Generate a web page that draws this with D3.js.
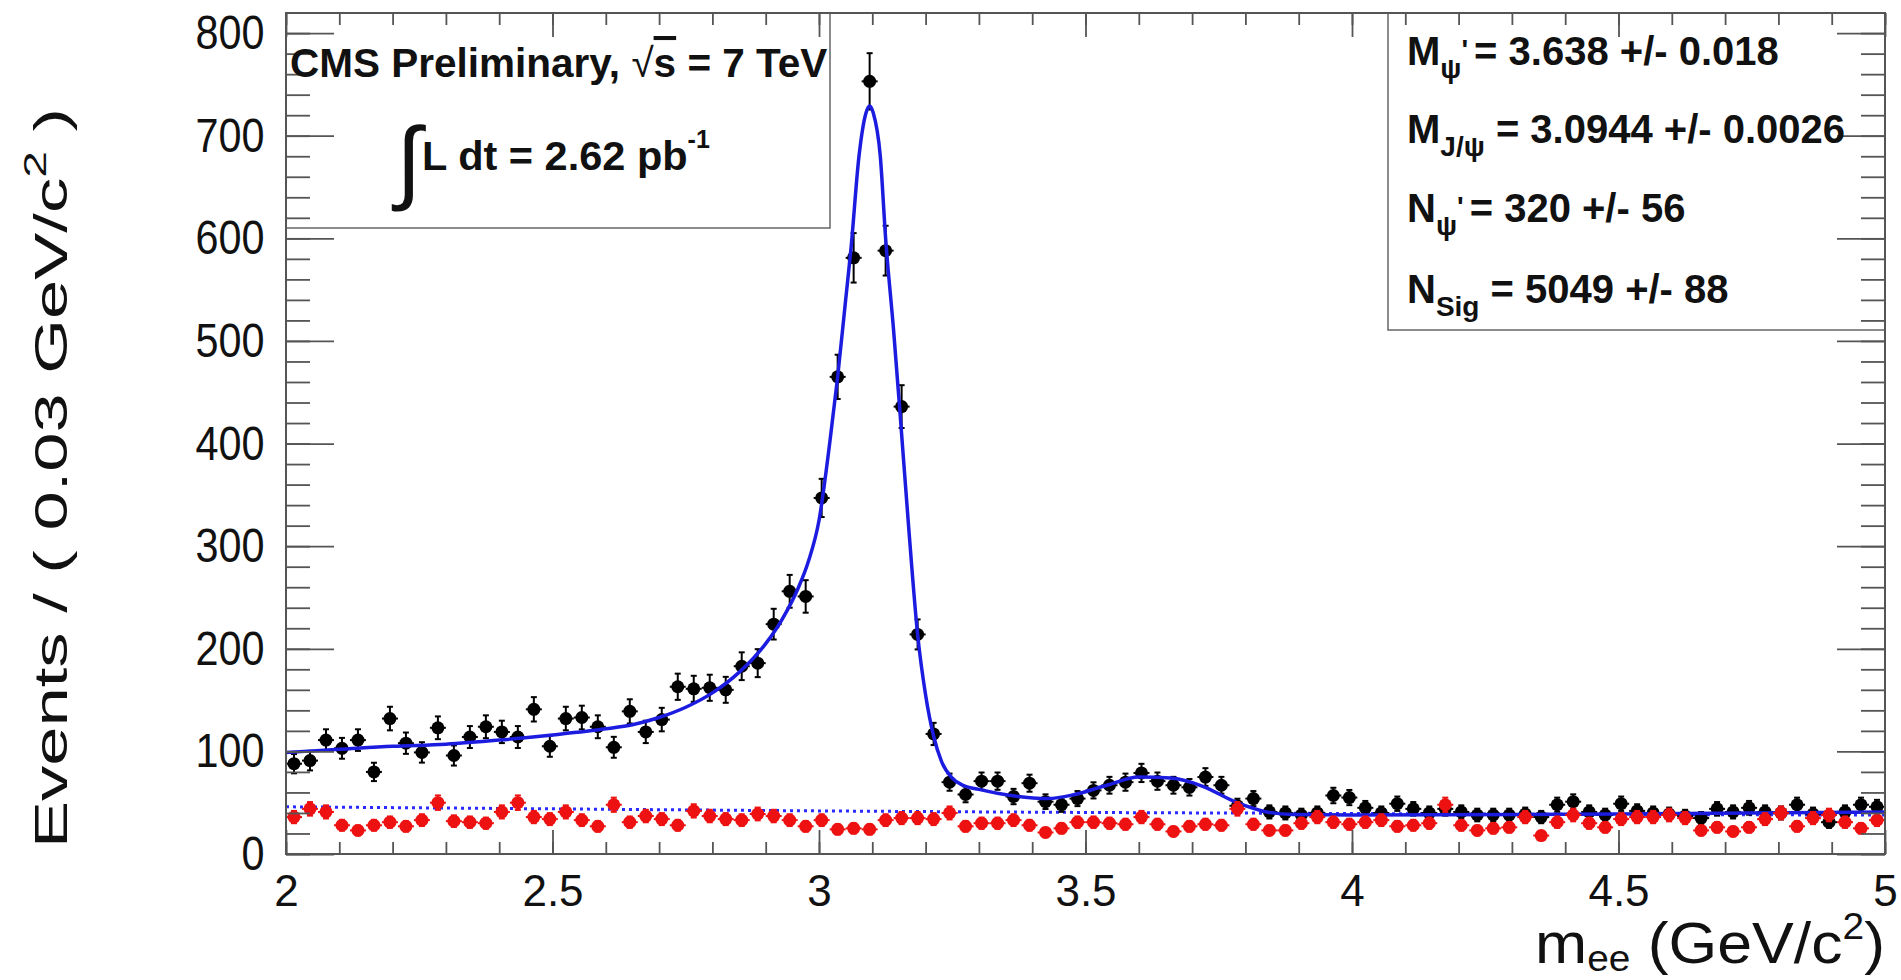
<!DOCTYPE html>
<html>
<head>
<meta charset="utf-8">
<script src="https://cdn.jsdelivr.net/npm/d3@7"></script>
<style>
  body { margin: 0; background: #fff; }
  svg text { font-family: "Liberation Sans", Arial, Helvetica, sans-serif; fill: #111; }
</style>
</head>
<body>
<div id="container"></div>
<script>
// bin centres of the m_ee histogram (0.03 GeV/c^2 bins from 2 to 5)
const binCenters = [
  2.015, 2.045, 2.075, 2.105, 2.135, 2.165, 2.195, 2.225, 2.255, 2.285,
  2.315, 2.345, 2.375, 2.405, 2.435, 2.465, 2.495, 2.525, 2.555, 2.585,
  2.615, 2.645, 2.675, 2.705, 2.735, 2.765, 2.795, 2.825, 2.855, 2.885,
  2.915, 2.945, 2.975, 3.005, 3.035, 3.065, 3.095, 3.125, 3.155, 3.185,
  3.215, 3.245, 3.275, 3.305, 3.335, 3.365, 3.395, 3.425, 3.455, 3.485,
  3.515, 3.545, 3.575, 3.605, 3.635, 3.665, 3.695, 3.725, 3.755, 3.785,
  3.815, 3.845, 3.875, 3.905, 3.935, 3.965, 3.995, 4.025, 4.055, 4.085,
  4.115, 4.145, 4.175, 4.205, 4.235, 4.265, 4.295, 4.325, 4.355, 4.385,
  4.415, 4.445, 4.475, 4.505, 4.535, 4.565, 4.595, 4.625, 4.655, 4.685,
  4.715, 4.745, 4.775, 4.805, 4.835, 4.865, 4.895, 4.925, 4.955, 4.985
];

// black points: opposite-sign ee events
const osCounts = [
  88, 91, 111, 103, 111, 80, 132, 108, 99, 123,
  96, 114, 124, 119, 114, 141, 105, 132, 133, 124,
  104, 139, 119, 131, 163, 161, 162, 160, 183, 186,
  224, 256, 251, 347, 465, 581, 753, 588, 436, 214,
  117, 70, 58, 71, 71, 56, 69, 51, 48, 54,
  62, 67, 70, 79, 71, 67, 65, 75, 67, 47,
  54, 41, 40, 38, 40, 57, 55, 45, 40, 49,
  44, 40, 44, 41, 38, 38, 38, 39, 36, 48,
  51, 41, 38, 49, 42, 40, 39, 37, 35, 44,
  41, 45, 41, 40, 48, 39, 31, 41, 48, 46
];

// red points: same-sign ee events
const ssCounts = [
  36, 44, 41, 28, 23, 28, 31, 27, 33, 50,
  32, 31, 30, 41, 50, 36, 34, 41, 33, 27,
  48, 31, 37, 34, 28, 42, 37, 34, 33, 39,
  37, 33, 27, 33, 24, 25, 24, 33, 35, 35,
  34, 40, 27, 30, 30, 33, 28, 21, 25, 31,
  31, 30, 29, 36, 29, 22, 27, 29, 28, 44,
  29, 23, 23, 30, 36, 31, 29, 31, 33, 27,
  28, 30, 48, 28, 23, 25, 26, 36, 18, 31,
  38, 30, 26, 34, 36, 36, 38, 35, 23, 26,
  22, 26, 34, 40, 27, 35, 38, 31, 25, 33
];

// total fit curve
const fitMass = [2.00, 2.10, 2.20, 2.30, 2.40, 2.50, 2.60, 2.65, 2.70, 2.75,
  2.80, 2.85, 2.90, 2.93, 2.96, 2.98, 3.00, 3.02, 3.035, 3.05,
  3.06, 3.075, 3.088, 3.095, 3.102, 3.115, 3.125, 3.14, 3.152, 3.168,
  3.185, 3.20, 3.215, 3.23, 3.25, 3.27, 3.30, 3.36, 3.43, 3.48,
  3.54, 3.60, 3.66, 3.72, 3.78, 3.84, 3.89, 4.00, 4.50, 5.00];
const fitValues = [99, 102, 105, 107, 111, 116, 122, 126, 133, 143,
  157, 177, 205, 228, 258, 285, 325, 400, 465, 540,
  590, 680, 722, 729, 722, 680, 600, 510, 430, 320,
  214, 155, 115, 90, 74, 67, 63, 57, 54, 58,
  67, 75, 74, 66, 51, 41, 38.5, 38, 39, 41];

// background component (dotted)
const bkgMass = [2.0, 2.5, 3.0, 3.5, 4.0, 4.5, 5.0];
const bkgValues = [46, 44, 42, 40.5, 39.5, 38.5, 38];

const xTicks = [2, 2.5, 3, 3.5, 4, 4.5, 5];
const xTickLabels = ["2", "2.5", "3", "3.5", "4", "4.5", "5"];
const yTicks = [0, 100, 200, 300, 400, 500, 600, 700, 800];
const yTickLabels = ["0", "100", "200", "300", "400", "500", "600", "700", "800"];

const width = 1901, height = 980;
const frame = { left: 286, right: 1885, top: 13, bottom: 854 };
const axisColor = '#555';

const svg = d3.select('#container').append('svg')
  .attr('width', width)
  .attr('height', height);

const x = d3.scaleLinear().domain([2, 5]).range([frame.left, frame.right]);
const y = d3.scaleLinear().domain([0, 819.6]).range([frame.bottom, frame.top]);

// text boxes (white, drawn below the axis ticks)
svg.append('rect')
  .attr('x', frame.left).attr('y', frame.top)
  .attr('width', 544).attr('height', 215)
  .attr('fill', '#fff').attr('stroke', '#666').attr('stroke-width', 1.5);
svg.append('rect')
  .attr('x', 1388).attr('y', frame.top)
  .attr('width', frame.right - 1388).attr('height', 317)
  .attr('fill', '#fff').attr('stroke', '#666').attr('stroke-width', 1.5);

// background dotted line
svg.append('path')
  .datum(bkgMass.map((m, i) => [m, bkgValues[i]]))
  .attr('fill', 'none')
  .attr('stroke', '#2a2aff')
  .attr('stroke-width', 3)
  .attr('stroke-dasharray', '3,4')
  .attr('d', d3.line().x(d => x(d[0])).y(d => y(d[1])).curve(d3.curveMonotoneX));

function drawPoints(counts, color, r) {
  const pts = binCenters.map((m, i) => ({ m: m, n: counts[i], e: Math.sqrt(counts[i]) }));
  const g = svg.append('g').attr('stroke', color).attr('stroke-width', 2);
  g.selectAll('.xerr').data(pts).join('line')
    .attr('x1', d => x(d.m - 0.015)).attr('x2', d => x(d.m + 0.015))
    .attr('y1', d => y(d.n)).attr('y2', d => y(d.n));
  g.selectAll('.yerr').data(pts).join('line')
    .attr('x1', d => x(d.m)).attr('x2', d => x(d.m))
    .attr('y1', d => y(d.n - d.e)).attr('y2', d => y(d.n + d.e));
  g.selectAll('.capTop').data(pts).join('line')
    .attr('x1', d => x(d.m) - 3).attr('x2', d => x(d.m) + 3)
    .attr('y1', d => y(d.n + d.e)).attr('y2', d => y(d.n + d.e));
  g.selectAll('.capBot').data(pts).join('line')
    .attr('x1', d => x(d.m) - 3).attr('x2', d => x(d.m) + 3)
    .attr('y1', d => y(d.n - d.e)).attr('y2', d => y(d.n - d.e));
  svg.append('g').selectAll('circle').data(pts).join('circle')
    .attr('cx', d => x(d.m)).attr('cy', d => y(d.n))
    .attr('r', r).attr('fill', color);
}

drawPoints(osCounts, '#000', 6.5);

// fit curve
svg.append('path')
  .datum(fitMass.map((m, i) => [m, fitValues[i]]))
  .attr('fill', 'none')
  .attr('stroke', '#1c1ce0')
  .attr('stroke-width', 3.5)
  .attr('d', d3.line().x(d => x(d[0])).y(d => y(d[1])).curve(d3.curveMonotoneX));

drawPoints(ssCounts, '#ee1111', 6.5);

// axes: major and minor ticks pointing into the frame, mirrored on top/right
function styleAxis(g) {
  g.select('.domain').remove();
  g.selectAll('line').attr('stroke', axisColor).attr('stroke-width', 1.8);
}
const minorY = d3.range(0, 820, 20);
const minorX = d3.range(2, 5.001, 0.1);

svg.append('g').attr('transform', `translate(${frame.left},0)`)
  .call(d3.axisLeft(y).tickValues(minorY).tickSize(-24).tickFormat(''))
  .call(styleAxis);
svg.append('g').attr('transform', `translate(${frame.left},0)`)
  .call(d3.axisLeft(y).tickValues(yTicks).tickSize(-48).tickPadding(23)
    .tickFormat((d, i) => yTickLabels[i]))
  .call(styleAxis)
  .selectAll('text').attr('font-size', 44).attr('fill', '#111')
  .attr('transform', 'scale(0.94,1.1)');

svg.append('g').attr('transform', `translate(${frame.right},0)`)
  .call(d3.axisRight(y).tickValues(minorY).tickSize(-24).tickFormat(''))
  .call(styleAxis);
svg.append('g').attr('transform', `translate(${frame.right},0)`)
  .call(d3.axisRight(y).tickValues(yTicks).tickSize(-48).tickFormat(''))
  .call(styleAxis);

svg.append('g').attr('transform', `translate(0,${frame.bottom})`)
  .call(d3.axisBottom(x).tickValues(minorX).tickSize(-12).tickFormat(''))
  .call(styleAxis);
svg.append('g').attr('transform', `translate(0,${frame.bottom})`)
  .call(d3.axisBottom(x).tickValues(xTicks).tickSize(-24).tickPadding(21)
    .tickFormat((d, i) => xTickLabels[i]))
  .call(styleAxis)
  .selectAll('text').attr('font-size', 44).attr('fill', '#111');

svg.append('g').attr('transform', `translate(0,${frame.top})`)
  .call(d3.axisTop(x).tickValues(minorX).tickSize(-12).tickFormat(''))
  .call(styleAxis);
svg.append('g').attr('transform', `translate(0,${frame.top})`)
  .call(d3.axisTop(x).tickValues(xTicks).tickSize(-24).tickFormat(''))
  .call(styleAxis);

// frame
svg.append('rect')
  .attr('x', frame.left).attr('y', frame.top)
  .attr('width', frame.right - frame.left).attr('height', frame.bottom - frame.top)
  .attr('fill', 'none').attr('stroke', axisColor).attr('stroke-width', 2);

// text with sub/superscripts, parts shift relative to the baseline
function richText(sel, parts) {
  let cur = 0;
  parts.forEach(p => {
    const ts = sel.append('tspan').text(p.t);
    if (p.size) ts.attr('font-size', p.size);
    if (p.weight) ts.attr('font-weight', p.weight);
    if (p.family) ts.attr('font-family', p.family);
    if (p.deco) ts.attr('text-decoration', p.deco);
    if (p.dx) ts.attr('dx', p.dx);
    const shift = p.shift || 0;
    if (shift !== cur) { ts.attr('dy', shift - cur); cur = shift; }
  });
  return sel;
}

// axis titles
richText(svg.append('text')
  .attr('transform', 'translate(67,478) rotate(-90)')
  .attr('text-anchor', 'middle')
  .attr('font-size', 47)
  .attr('textLength', 740)
  .attr('lengthAdjust', 'spacingAndGlyphs'),
  [{ t: 'Events / ( 0.03 GeV/c' }, { t: '2', size: 32, shift: -21 }, { t: ' )', shift: 0 }]);

richText(svg.append('text')
  .attr('x', frame.right).attr('y', 963)
  .attr('text-anchor', 'end')
  .attr('font-size', 58)
  .attr('textLength', 350)
  .attr('lengthAdjust', 'spacingAndGlyphs'),
  [{ t: 'm' }, { t: 'ee', size: 36, shift: 8 }, { t: ' (GeV/c', shift: 0 },
   { t: '2', size: 36, shift: -24 }, { t: ')', shift: 0 }]);

// CMS label box
richText(svg.append('text')
  .attr('x', 290).attr('y', 77)
  .attr('font-size', 40.5).attr('font-weight', 'bold'),
  [{ t: 'CMS Preliminary, ' }, { t: '\u221A', weight: 'normal' },
   { t: 's', deco: 'overline' }, { t: ' = 7 TeV' }]);

svg.append('text')
  .attr('x', 396).attr('y', 192)
  .attr('font-family', 'DejaVu Sans')
  .attr('font-size', 92)
  .text('\u222B');

richText(svg.append('text')
  .attr('x', 422).attr('y', 170)
  .attr('font-size', 41.5).attr('font-weight', 'bold'),
  [{ t: 'L dt = 2.62 pb' }, { t: '-1', size: 25, shift: -22 }]);

// fit results box
const fitRows = [
  { y: 65, parts: [{ t: 'M' }, { t: '\u03C8', size: 28, shift: 13 }, { t: '\'', size: 28, shift: -6 },
    { t: '=  3.638 +/- 0.018', shift: 0, dx: 6 }] },
  { y: 143, parts: [{ t: 'M' }, { t: 'J/\u03C8', size: 28, shift: 13 },
    { t: ' =  3.0944 +/- 0.0026', shift: 0 }] },
  { y: 222, parts: [{ t: 'N' }, { t: '\u03C8', size: 28, shift: 13 }, { t: '\'', size: 28, shift: -6 },
    { t: '=  320 +/- 56', shift: 0, dx: 6 }] },
  { y: 303, parts: [{ t: 'N' }, { t: 'Sig', size: 28, shift: 13 },
    { t: ' =  5049 +/- 88', shift: 0 }] }
];
fitRows.forEach(row => {
  richText(svg.append('text')
    .attr('x', 1407).attr('y', row.y)
    .attr('font-size', 40).attr('font-weight', 'bold'), row.parts);
});
</script>
</body>
</html>
